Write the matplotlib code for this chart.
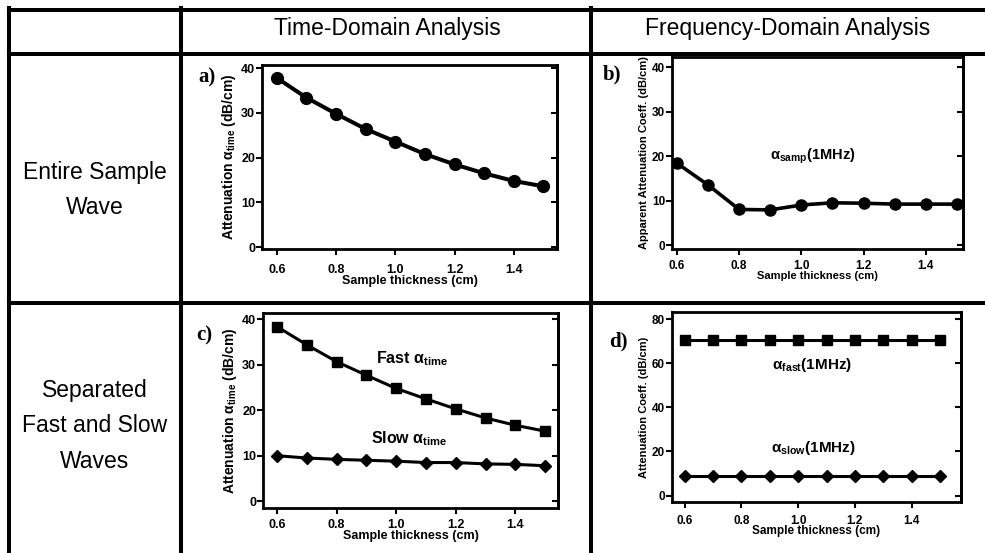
import matplotlib
matplotlib.use("Agg")
import matplotlib.pyplot as plt
from matplotlib.lines import Line2D

plt.rcParams['font.family'] = ['Liberation Sans', 'DejaVu Sans']
plt.rcParams['mathtext.fontset'] = 'custom'
plt.rcParams['mathtext.rm'] = 'Liberation Sans:bold'
plt.rcParams['mathtext.bf'] = 'Liberation Sans:bold'
plt.rcParams['mathtext.it'] = 'Liberation Sans:bold'

# data
thickness = [0.6, 0.7, 0.8, 0.9, 1.0, 1.1, 1.2, 1.3, 1.4, 1.5]
alpha_time = [37.8, 33.4, 29.8, 26.4, 23.6, 20.8, 18.5, 16.5, 14.8, 13.6]
alpha_samp = [18.4, 13.5, 8.0, 7.9, 9.0, 9.5, 9.4, 9.2, 9.2, 9.2]
fast_time = [38.4, 34.4, 30.7, 27.7, 24.8, 22.5, 20.3, 18.3, 16.7, 15.4]
slow_time = [10.0, 9.5, 9.2, 9.0, 8.8, 8.5, 8.5, 8.2, 8.1, 7.8]
fast_freq = [70.5, 70.5, 70.5, 70.5, 70.5, 70.5, 70.5, 70.5, 70.5, 70.5]
slow_freq = [8.9, 8.9, 8.9, 8.9, 8.9, 8.9, 8.9, 8.9, 8.9, 8.9]

col_titles = ["Time-Domain Analysis", "Frequency-Domain Analysis"]
row_titles = [["Entire Sample", "Wave"], ["Separated", "Fast and Slow", "Waves"]]
xticks = [0.6, 0.8, 1.0, 1.2, 1.4]

W, H = 985, 553
fig = plt.figure(figsize=(W / 100, H / 100), dpi=100)


def fx(px):
    return px / W


def fy(py):
    return 1 - py / H


def ax_at(l, t, r, b):
    return fig.add_axes([fx(l), fy(b), (r - l) / W, (b - t) / H])


# table lines
lw_tab = 2.9
table_lines = [
    ((9, 985), (10, 10)),
    ((9, 985), (54, 54)),
    ((9, 985), (303, 303)),
    ((9, 9), (8, 553)),
    ((181, 181), (8, 553)),
    ((591, 591), (8, 553)),
]
for xs, ys in table_lines:
    fig.add_artist(Line2D([fx(xs[0]), fx(xs[1])], [fy(ys[0]), fy(ys[1])],
                          color='black', lw=lw_tab, solid_capstyle='projecting'))

fig.text(fx(387), fy(28), col_titles[0], ha='center', va='center', fontsize=16.5)
fig.text(fx(788), fy(28), col_titles[1], ha='center', va='center', fontsize=16.5)
for i, s in enumerate(row_titles[0]):
    fig.text(fx(95), fy(172 + 36 * i), s, ha='center', va='center', fontsize=16.5)
for i, s in enumerate(row_titles[1]):
    fig.text(fx(95), fy(390 + 36 * i), s, ha='center', va='center', fontsize=16.5)


def style(ax, xlim, ylim, yticks, ylabel, yl_size, tick_size, xl_size, xpad=4):
    ax.set_xlim(*xlim)
    ax.set_ylim(*ylim)
    ax.set_xticks(xticks)
    ax.set_xticklabels([f"{v:.1f}" for v in xticks])
    ax.set_yticks(yticks)
    for sp in ax.spines.values():
        sp.set_linewidth(2.0)
    ax.tick_params(direction='out', length=4, width=1.5, pad=1,
                   labelsize=tick_size)
    ax.tick_params(axis='x', pad=xpad)
    for lab in ax.get_xticklabels() + ax.get_yticklabels():
        lab.set_fontweight('bold')
    sec = ax.secondary_yaxis('right')
    sec.set_yticks(yticks)
    sec.tick_params(direction='in', length=4, width=1.5, labelright=False)
    sec.spines['right'].set_linewidth(2.0)
    ax.set_xlabel("Sample thickness (cm)", fontsize=xl_size, fontweight='bold',
                  labelpad=-1)
    ax.set_ylabel(ylabel, fontsize=yl_size, fontweight='bold', labelpad=2)


# a)
ax = ax_at(262, 65, 557, 249)
ax.plot(thickness, alpha_time, color='black', lw=2.9, marker='o', ms=8.5)
style(ax, (0.55, 1.546), (-0.4, 40.7), [0, 10, 20, 30, 40],
      r"Attenuation $\mathrm{\alpha}_{\mathrm{time}}$ (dB/cm)", 10, 9, 9,
      xpad=7)

# b)
ax = ax_at(672, 57, 963, 249)
ax.plot(thickness, alpha_samp, color='black', lw=2.6, marker='o', ms=8)
style(ax, (0.584, 1.52), (-0.9, 42.3), [0, 10, 20, 30, 40],
      "Apparent Attenuation Coeff. (dB/cm)", 8, 8.5, 8)
ax.text(1.038, 19.9, r"$\mathrm{\alpha}_{\mathrm{samp}}$(1MHz)", ha='center',
        va='center', fontsize=10.5, fontweight='bold')

# c)
ax = ax_at(263, 313, 558, 508)
ax.plot(thickness, fast_time, color='black', lw=2.2, marker='s', ms=6.5)
ax.plot(thickness, slow_time, color='black', lw=2.2, marker='D', ms=6.5)
style(ax, (0.553, 1.543), (-1.5, 41.4), [0, 10, 20, 30, 40],
      r"Attenuation $\mathrm{\alpha}_{\mathrm{time}}$ (dB/cm)", 10, 9, 9)
ax.text(1.053, 31.4, r"Fast $\mathrm{\alpha}_{\mathrm{time}}$", ha='center',
        va='center', fontsize=11.5, fontweight='bold')
ax.text(1.042, 13.8, r"Slow $\mathrm{\alpha}_{\mathrm{time}}$", ha='center',
        va='center', fontsize=11.5, fontweight='bold')

# d)
ax = ax_at(672, 312, 961, 502)
ax.plot(thickness, fast_freq, color='black', lw=2.2, marker='s', ms=6.5)
ax.plot(thickness, slow_freq, color='black', lw=2.2, marker='D', ms=6.5)
style(ax, (0.555, 1.574), (-2.9, 83.2), [0, 20, 40, 60, 80],
      "Attenuation Coeff. (dB/cm)", 8, 8.5, 8.5, xpad=5)
ax.text(1.048, 59.2, r"$\mathrm{\alpha}_{\mathrm{fast}}$(1MHz)", ha='center',
        va='center', fontsize=11, fontweight='bold')
ax.text(1.054, 21.4, r"$\mathrm{\alpha}_{\mathrm{slow}}$(1MHz)", ha='center',
        va='center', fontsize=11, fontweight='bold')

# panel letters
for s, (px, py) in zip(["a)", "b)", "c)", "d)"],
                       [(207, 77), (612, 74), (204, 335), (618, 341)]):
    fig.text(fx(px), fy(py), s, ha='center', va='center', fontsize=15,
             fontweight='bold', family=['Liberation Serif', 'DejaVu Serif'])

fig.savefig("out.png", dpi=100)
